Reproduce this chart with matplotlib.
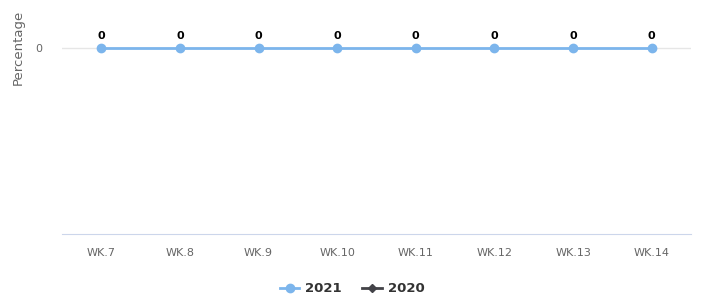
import matplotlib.pyplot as plt
from matplotlib.lines import Line2D

weeks = ['WK.7', 'WK.8', 'WK.9', 'WK.10', 'WK.11', 'WK.12', 'WK.13', 'WK.14']
values_2021 = [0, 0, 0, 0, 0, 0, 0, 0]
values_2020 = []  # no data, legend only

fig = plt.figure(figsize=(7.01, 2.98), dpi=100)
ax = fig.add_axes([62 / 701, 1 - 234 / 298, 629 / 701, 224 / 298])

x = list(range(len(weeks)))
ax.plot(x, values_2021, color='#7cb5ec', lw=2, marker='o', ms=6, zorder=3, clip_on=False)
for xi, v in zip(x, values_2021):
    ax.annotate(str(v), (xi, v), xytext=(0, 5), textcoords='offset points',
                ha='center', va='bottom', fontsize=8, fontweight='bold', color='#000000')

ax.set_xlim(-0.5, len(weeks) - 0.5)
ax.set_ylim(-1, 0.2045)
ax.set_yticks([0])
ax.set_yticklabels(['0'])
ax.set_xticks(x)
ax.set_xticklabels(weeks)
ax.tick_params(axis='both', length=0, colors='#666666', labelsize=8)
ax.tick_params(axis='x', pad=10)
ax.tick_params(axis='y', pad=14)
ax.axhline(0, color='#e6e6e6', lw=1, zorder=1)

for side in ['top', 'right', 'left']:
    ax.spines[side].set_visible(False)
ax.spines['bottom'].set_color('#ccd6eb')

fig.text(18 / 701, 1 - 47 / 298, 'Percentage', rotation=90, ha='center', va='center',
         fontsize=9.5, color='#666666')

handles = [
    Line2D([], [], color='#7cb5ec', lw=2, marker='o', ms=6),
    Line2D([], [], color='#434348', lw=2, marker='D', ms=4),
]
leg = fig.legend(handles, ['2021', '2020'], loc='center', bbox_to_anchor=(352 / 701, 1 - 289 / 298),
                 ncol=2, frameon=False, handlelength=1.5, handletextpad=0.4, columnspacing=1.6,
                 prop={'weight': 'bold', 'size': 9.5})
for t in leg.get_texts():
    t.set_color('#333333')

plt.savefig('out.png', dpi=100)
